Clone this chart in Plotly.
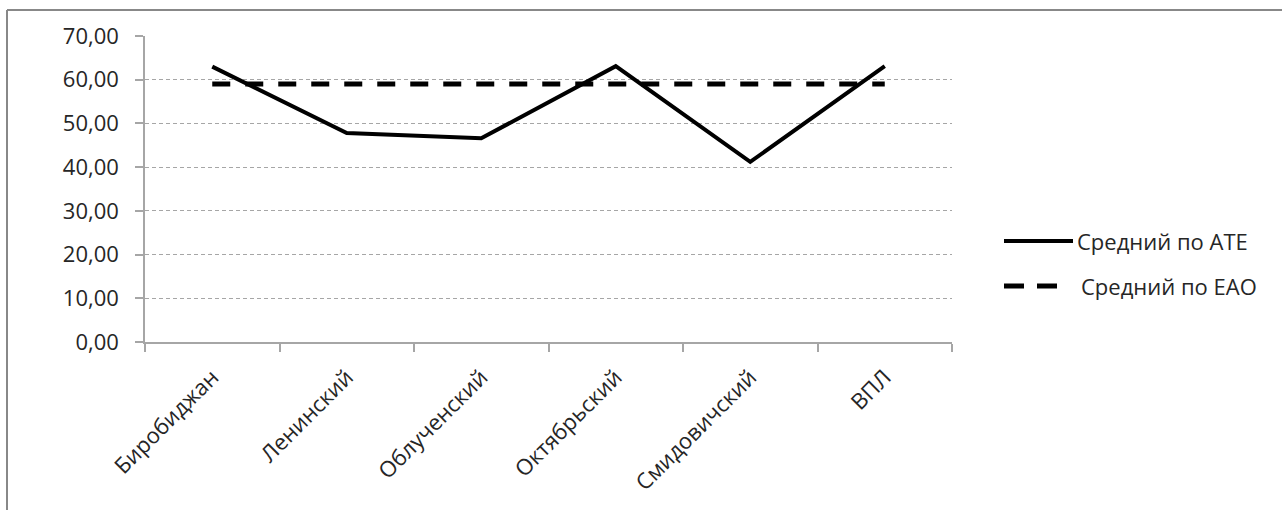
import plotly.graph_objects as go

categories = ["Биробиджан", "Ленинский", "Облученский", "Октябрьский", "Смидовичский", "ВПЛ"]
ate_values = [63.0, 47.8, 46.6, 63.1, 41.2, 63.1]
eao_values = [59.0, 59.0, 59.0, 59.0, 59.0, 59.0]
series_names = ["Средний по АТЕ", "Средний по ЕАО"]
y_ticks = [0, 10, 20, 30, 40, 50, 60, 70]

W, H = 1282, 510
L, R, T, B = 145, 330, 36, 168
pw, ph = W - L - R, H - T - B

def px_x(x):
    return (x - L) / pw

def px_y(y):
    return (H - B - y) / ph

FONT = "Open Sans"
FS = 22
TXT = "#262626"

fig = go.Figure()
fig.add_trace(go.Scatter(x=categories, y=ate_values, mode="lines", name=series_names[0],
                         line=dict(color="black", width=4), showlegend=False))
fig.add_trace(go.Scatter(x=categories, y=eao_values, mode="lines", name=series_names[1],
                         line=dict(color="black", width=5, dash="18px,15px"), showlegend=False))

shapes = []
# outer chart border (left and top, cut by the image edges)
shapes.append(dict(type="line", xref="paper", yref="paper", x0=px_x(7), x1=px_x(7),
                   y0=px_y(H + 10), y1=px_y(10), line=dict(color="#888888", width=2)))
shapes.append(dict(type="line", xref="paper", yref="paper", x0=px_x(7), x1=px_x(W + 10),
                   y0=px_y(10), y1=px_y(10), line=dict(color="#888888", width=2)))
# custom legend
legend_items = [(series_names[0], "solid", 4, 241, 1073, 1075),
                (series_names[1], "20px,13px", 5, 286, 1057, 1079)]
annotations = []
for name, dash, w, yy, xend, xt in legend_items:
    shapes.append(dict(type="line", xref="paper", yref="paper", x0=px_x(1004), x1=px_x(xend),
                       y0=px_y(yy), y1=px_y(yy), line=dict(color="black", width=w, dash=dash)))
    annotations.append(dict(xref="paper", yref="paper", x=px_x(xt), y=px_y(yy), text=name,
                            showarrow=False, xanchor="left", yanchor="middle",
                            font=dict(family=FONT, size=FS, color=TXT)))

fig.update_layout(
    width=W, height=H,
    margin=dict(l=L, r=R, t=T, b=B, autoexpand=False),
    paper_bgcolor="white", plot_bgcolor="white",
    separators=", ",
    font=dict(family=FONT, size=FS, color=TXT),
    shapes=shapes, annotations=annotations,
    xaxis=dict(type="category", categoryorder="array", categoryarray=categories,
               range=[-0.5, len(categories) - 0.5],
               showline=True, linecolor="#a6a6a6", linewidth=1.5,
               ticks="outside", tickson="boundaries", ticklen=8, tickcolor="#a6a6a6", tickwidth=1.5,
               showgrid=False, tickangle=-45, ticklabelstandoff=12,
               tickfont=dict(family=FONT, size=FS, color=TXT)),
    yaxis=dict(range=[0, 70], tickvals=y_ticks, tickformat=".2f",
               showline=True, linecolor="#a6a6a6", linewidth=1.5,
               ticks="outside", ticklen=8, tickcolor="#a6a6a6", tickwidth=1.5,
               showgrid=True, gridcolor="#a6a6a6", gridwidth=1, griddash="4px,3px",
               zeroline=False, ticklabelstandoff=12,
               tickfont=dict(family=FONT, size=FS, color=TXT)),
)

fig.write_html("out.html", config={"displayModeBar": False},
               post_script="document.body.style.margin='0';document.body.style.overflow='hidden';")
